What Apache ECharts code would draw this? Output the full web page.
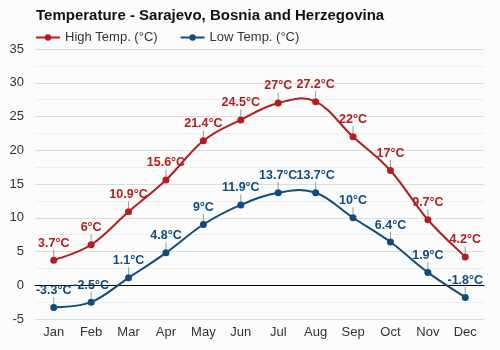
<!DOCTYPE html>
<html><head><meta charset="utf-8">
<script src="https://cdn.jsdelivr.net/npm/echarts@6/dist/echarts.min.js"></script>
<style>html,body{margin:0;padding:0;background:#fcfcfc}#c{width:500px;height:350px}</style>
</head><body><div id="c"></div>
<script>
var months = ['Jan','Feb','Mar','Apr','May','Jun','Jul','Aug','Sep','Oct','Nov','Dec'];
var highTemp = [3.7, 6, 10.9, 15.6, 21.4, 24.5, 27, 27.2, 22, 17, 9.7, 4.2];
var lowTemp = [-3.3, -2.5, 1.1, 4.8, 9, 11.9, 13.7, 13.7, 10, 6.4, 1.9, -1.8];
var yTicks = [-5, 0, 5, 10, 15, 20, 25, 30, 35];
var RED = '#b51d1d', BLUE = '#0e4c80';
var chart = echarts.init(document.getElementById('c'));
var K = 0.19;
function curve(name, arr, color) {
  return {
    name: name, type: 'custom', z: 1, silent: true,
    data: arr.map(function (v, i) { return [i, v]; }),
    encode: {x: 0, y: 1},
    renderItem: function (params, api) {
      var i = params.dataIndex, n = arr.length;
      if (i >= n - 1) return null;
      function pt(j) { j = Math.max(0, Math.min(n - 1, j)); return api.coord([j, arr[j]]); }
      var p0 = pt(i - 1), p1 = pt(i), p2 = pt(i + 1), p3 = pt(i + 2);
      return {
        type: 'bezierCurve',
        shape: {
          x1: p1[0], y1: p1[1], x2: p2[0], y2: p2[1],
          cpx1: p1[0] + (p2[0] - p0[0]) * K, cpy1: p1[1] + (p2[1] - p0[1]) * K,
          cpx2: p2[0] - (p3[0] - p1[0]) * K, cpy2: p2[1] - (p3[1] - p1[1]) * K
        },
        style: {stroke: color, lineWidth: 2, fill: null}
      };
    }
  };
}
function ser(name, data, color) {
  return {
    name: name, type: 'line', data: data, z: 3,
    symbol: 'circle', symbolSize: 7,
    lineStyle: {color: color, width: 2, opacity: 0}, itemStyle: {color: color},
    label: {show: true, position: 'top', distance: 1, color: color, fontWeight: 'bold', fontSize: 12.5,
      fontFamily: 'Liberation Sans, Arial', formatter: function (p) { return p.value + '°C'; }},
    labelLayout: {dy: -6},
    labelLine: {show: true, lineStyle: {color: '#999', width: 1}}
  };
}
chart.setOption({
  backgroundColor: '#fcfcfc',
  animation: false,
  textStyle: {fontFamily: 'Liberation Sans, Arial'},
  title: {text: 'Temperature - Sarajevo, Bosnia and Herzegovina', left: 31, top: 3,
    textStyle: {fontSize: 15, fontWeight: 'bold', color: '#111', fontFamily: 'Liberation Sans, Arial'}},
  legend: {left: 30, top: 26, itemWidth: 24, itemHeight: 8, itemGap: 22,
    textStyle: {fontSize: 13, color: '#333'},
    data: [
      {name: 'High Temp. (°C)', lineStyle: {color: RED, width: 2, opacity: 1}},
      {name: 'Low Temp. (°C)', lineStyle: {color: BLUE, width: 2, opacity: 1}}
    ]},
  grid: {left: 35, right: 16, top: 49, bottom: 31},
  xAxis: {type: 'category', data: months, boundaryGap: true,
    axisLine: {onZero: true, lineStyle: {color: '#000', width: 1}},
    axisTick: {show: false},
    axisLabel: {fontSize: 13, color: '#333', margin: 7}
  },
  yAxis: {type: 'value', min: yTicks[0], max: yTicks[yTicks.length-1], interval: 5,
    axisLabel: {fontSize: 13, color: '#333', margin: 11},
    axisLine: {show: false}, axisTick: {show: false},
    splitLine: {lineStyle: {color: '#ddd'}},
    minorTick: {show: false, splitNumber: 2},
    minorSplitLine: {show: true, lineStyle: {color: '#eee'}}
  },
  series: [
    curve('highCurve', highTemp, RED), curve('lowCurve', lowTemp, BLUE),
    ser('High Temp. (°C)', highTemp, RED), ser('Low Temp. (°C)', lowTemp, BLUE)
  ]
});
</script></body></html>
